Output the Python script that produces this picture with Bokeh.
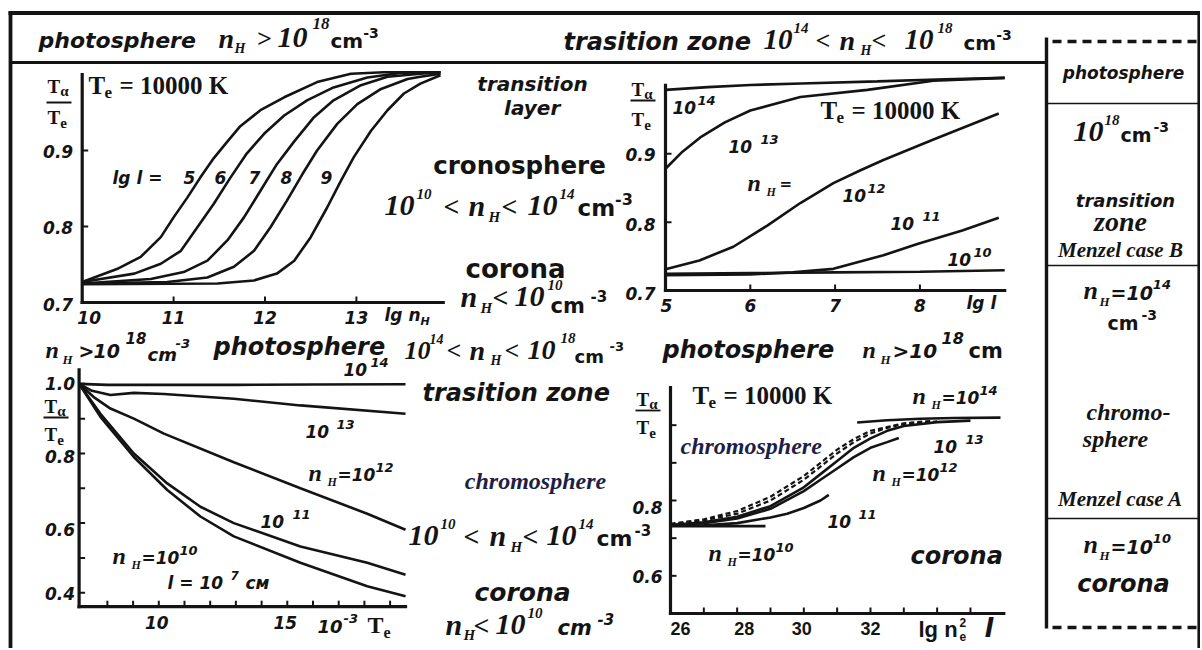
from bokeh.plotting import figure
from bokeh.models import Range1d
from bokeh.core.properties import value
from bokeh.embed import file_html
from bokeh.resources import INLINE

# ======================= DATA =======================
# Panel A (top left): Ta/Te vs lg n_H, Te = 10000 K, curves lg l = 5..9
a_lgl = ["5", "6", "7", "8", "9"]
a_lgn_5 = [10.0, 10.38, 10.64, 10.86, 11.0, 11.15, 11.29, 11.44, 11.59, 11.73, 11.95, 12.21, 12.57, 12.94, 13.30, 13.70, 13.92]
a_rat_5 = [0.727, 0.744, 0.760, 0.786, 0.812, 0.838, 0.864, 0.890, 0.912, 0.932, 0.953, 0.970, 0.990, 1.001, 1.003, 1.003, 1.003]
a_lgn_6 = [10.0, 10.57, 10.86, 11.08, 11.26, 11.44, 11.62, 11.80, 11.99, 12.21, 12.46, 12.75, 13.12, 13.48, 13.70, 13.92]
a_rat_6 = [0.727, 0.738, 0.751, 0.768, 0.799, 0.830, 0.864, 0.896, 0.922, 0.946, 0.966, 0.983, 0.996, 1.002, 1.003, 1.003]
a_lgn_7 = [10.0, 10.75, 11.11, 11.37, 11.59, 11.77, 11.95, 12.13, 12.32, 12.53, 12.75, 13.05, 13.34, 13.70, 13.92]
a_rat_7 = [0.725, 0.731, 0.740, 0.755, 0.782, 0.812, 0.847, 0.882, 0.912, 0.943, 0.966, 0.986, 0.997, 1.001, 1.003]
a_lgn_8 = [10.0, 10.93, 11.37, 11.66, 11.88, 12.06, 12.24, 12.41, 12.57, 12.79, 13.01, 13.27, 13.56, 13.70, 13.92]
a_rat_8 = [0.725, 0.727, 0.733, 0.747, 0.768, 0.799, 0.834, 0.869, 0.900, 0.935, 0.961, 0.981, 0.994, 0.997, 1.001]
a_lgn_9 = [10.0, 11.48, 11.88, 12.13, 12.32, 12.50, 12.68, 12.83, 12.97, 13.16, 13.34, 13.52, 13.70, 13.92]
a_rat_9 = [0.724, 0.725, 0.729, 0.738, 0.755, 0.786, 0.825, 0.860, 0.891, 0.926, 0.953, 0.975, 0.988, 0.999]
a_xticks = [11, 12, 13]
a_xlab_at = [10, 11, 12, 13]
a_xlab = ["10", "11", "12", "13"]
a_yticks = [0.8, 0.9]
a_ylab_at = [0.7, 0.8, 0.9]
a_ylab = ["0.7", "0.8", "0.9"]

# Panel B (top right): Ta/Te vs lg l, Te = 10000 K, curves n_H = 1e10..1e14
b_lgl_14 = [5.0, 5.5, 6.0, 6.6, 7.5, 8.3, 9.0]
b_rat_14 = [0.9935, 0.9976, 1.0007, 1.0028, 1.0059, 1.009, 1.0111]
b_lgl_13 = [5.0, 5.2, 5.41, 5.7, 6.0, 6.59, 7.38, 8.16, 9.0]
b_rat_13 = [0.8781, 0.9031, 0.9239, 0.946, 0.9633, 0.9831, 0.9935, 1.0070, 1.0111]
b_lgl_12 = [5.0, 5.4, 5.8, 6.2, 6.59, 6.98, 7.3, 7.57, 8.16, 8.93]
b_rat_12 = [0.731, 0.744, 0.764, 0.795, 0.828, 0.857, 0.876, 0.891, 0.921, 0.959]
b_lgl_11 = [5.0, 6.0, 6.5, 6.98, 7.57, 7.97, 8.5, 8.93]
b_rat_11 = [0.7224, 0.7234, 0.7265, 0.7317, 0.7515, 0.7681, 0.7878, 0.8065]
b_lgl_10 = [5.0, 6.0, 7.0, 8.0, 9.0]
b_rat_10 = [0.7244, 0.7255, 0.7265, 0.7275, 0.7296]
b_xticks = [6, 7, 8]
b_xlab_at = [5, 6, 7, 8]
b_xlab = ["5", "6", "7", "8"]
b_yticks = [0.8, 0.9]
b_ylab_at = [0.7, 0.8, 0.9]
b_ylab = ["0.7", "0.8", "0.9"]

# Panel C (bottom left): Ta/Te vs 1e-3 Te, l = 1e7 cm
c_te_14 = [6.9, 8.0, 10.0, 13.0, 16.0, 19.6]
c_rat_14 = [1.0, 0.997, 0.997, 0.997, 0.998, 0.999]
c_te_13 = [6.9, 7.4, 8.12, 9.03, 10.2, 12.92, 15.51, 19.6]
c_rat_13 = [1.0, 0.980, 0.968, 0.974, 0.971, 0.957, 0.938, 0.914]
c_te_12 = [6.9, 7.47, 8.12, 9.03, 10.2, 12.92, 15.51, 18.11, 19.6]
c_rat_12 = [1.0, 0.962, 0.929, 0.900, 0.857, 0.775, 0.700, 0.627, 0.581]
c_te_11 = [6.9, 7.73, 9.03, 10.33, 11.62, 12.92, 15.51, 18.11, 19.6]
c_rat_11 = [1.0, 0.914, 0.800, 0.714, 0.647, 0.600, 0.533, 0.486, 0.452]
c_te_10 = [6.9, 7.73, 9.03, 10.33, 11.62, 12.92, 15.51, 18.11, 19.6]
c_rat_10 = [1.0, 0.905, 0.790, 0.695, 0.619, 0.562, 0.486, 0.419, 0.390]
c_xticks = [8, 9, 10, 11, 12, 13, 14, 15, 16, 17, 18, 19]
c_xlab_at = [10, 15]
c_xlab = ["10", "15"]
c_yticks = [0.4, 0.5, 0.6, 0.7, 0.8, 0.9, 1.0]
c_ylab_at = [1.0, 0.8, 0.6, 0.4]
c_ylab = ["1.0", "0.8", "0.6", "0.4"]

# Panel D (bottom right): Ta/Te vs lg n_e^2 l
d_x_10 = [26.0, 28.85]
d_r_10 = [0.732, 0.732]
d_x_11 = [26.0, 27.0, 28.0, 29.0, 29.5, 30.0, 30.5, 30.75]
d_r_11 = [0.733, 0.734, 0.740, 0.755, 0.765, 0.780, 0.800, 0.815]
d_x_12 = [26.0, 27.0, 28.0, 29.0, 30.0, 30.5, 31.0, 31.5, 32.0, 32.5, 32.85]
d_r_12 = [0.735, 0.740, 0.752, 0.778, 0.825, 0.855, 0.885, 0.915, 0.940, 0.955, 0.966]
d_x_13 = [26.0, 27.0, 28.0, 29.0, 30.0, 30.5, 31.0, 31.5, 32.0, 32.5, 33.0, 34.0, 35.0]
d_r_13 = [0.735, 0.742, 0.757, 0.785, 0.835, 0.870, 0.905, 0.940, 0.965, 0.985, 0.998, 1.008, 1.012]
d_x_da = [26.0, 27.0, 28.0, 29.0, 30.0, 30.5, 31.0, 31.5, 32.0, 32.5, 33.0, 34.0]
d_r_da = [0.737, 0.747, 0.765, 0.800, 0.855, 0.890, 0.925, 0.955, 0.978, 0.993, 1.003, 1.010]
d_x_db = [26.0, 27.0, 28.0, 29.0, 30.0, 30.5, 31.0, 31.5, 32.0, 33.0, 33.8]
d_r_db = [0.738, 0.750, 0.772, 0.810, 0.865, 0.900, 0.935, 0.963, 0.985, 1.005, 1.011]
d_x_14 = [31.6, 32.5, 33.5, 34.5, 35.9]
d_r_14 = [1.007, 1.013, 1.017, 1.019, 1.020]
d_xticks = [27, 28, 29, 30, 31, 32, 33, 34, 35]
d_xlab_at = [26, 28, 30, 32]
d_xlab = ["26", "28", "30", "32"]
d_yticks = [0.6, 0.7, 0.8, 0.9, 1.0]
d_ylab_at = [0.8, 0.6]
d_ylab = ["0.8", "0.6"]

# ======================= STYLE / LAYOUT =======================
INK = "#141414"
NAVY = "#1e1e46"
FONTS = {
    "sbi": ("DejaVu Sans", "bold italic"),
    "sb": ("DejaVu Sans", "bold"),
    "tbi": ("Liberation Serif", "bold italic"),
    "tb": ("Liberation Serif", "bold"),
    "lb": ("Liberation Sans", "bold"),
}
_DJ = {" ": .348, "-": .415, ".": .380, "/": .365, "<": .838, "=": .838, ">": .838,
       "a": .675, "c": .593, "e": .678, "g": .716, "h": .712, "i": .343, "l": .343, "m": 1.042,
       "n": .712, "o": .687, "p": .716, "r": .493, "s": .595, "t": .478, "y": .652, "z": .582,
       "с": .593, "м": .83}
_TBI = {" ": .25, "-": .333, "<": .570, "=": .570, ">": .570, "a": .5, "c": .444, "e": .444,
        "h": .556, "l": .278, "m": .778, "n": .556, "o": .5, "p": .5, "r": .389, "s": .389,
        "z": .389, "A": .667, "B": .667, "H": .778, "M": .889}
_TB = {" ": .25, "=": .570, "T": .667, "e": .444, "K": .778, "α": .55}
_LB = {" ": .278, "l": .278, "g": .611, "n": .611, "e": .556}
for _d in "0123456789":
    _DJ[_d] = .696
    _TBI[_d] = .5
    _TB[_d] = .5
    _LB[_d] = .556
WID = {"sbi": _DJ, "sb": _DJ, "tbi": _TBI, "tb": _TB, "lb": _LB}
MID = 0.33   # baseline -> middle of text box, in em

# canvas units == page pixels
W, H = 1200, 648
p = figure(width=W, height=H, x_range=Range1d(0, W), y_range=Range1d(H, 0),
           output_backend="svg", toolbar_location=None, min_border=0,
           x_axis_location=None, y_axis_location=None)
p.grid.visible = False
p.outline_line_color = None
p.background_fill_color = "white"
p.border_fill_color = "white"

_texts = {}


def put(x, y, t, fk, size, color=INK):
    d = _texts.setdefault((fk, size, color), {"x": [], "y": [], "t": []})
    d["x"].append(x)
    d["y"].append(y - MID * size)
    d["t"].append(t)


def width(t, fk, size):
    return sum(WID[fk].get(c, 0.6) for c in t) * size


def rich(x, y, segs, align="left", color=INK):
    total = sum(width(s[0], s[1], s[2]) for s in segs)
    cx = x - total / 2 if align == "center" else x
    for s in segs:
        t, fk, size, dy = s[:4]
        if len(s) > 4 and s[4] is not None:
            cx = s[4]
        put(cx, y + dy, t, fk, size, color)
        cx += width(t, fk, size)


def frac(x, y_num, y_bar, y_den, bar_w=25):
    rich(0, y_num, [("T", "tb", 19, 0, x), ("α", "tb", 15, 3)])
    p.segment(x0=[x - 1], y0=[y_bar], x1=[x - 1 + bar_w], y1=[y_bar], line_width=1.8, line_color=INK)
    rich(0, y_den, [("T", "tb", 19, 0, x), ("e", "tb", 15, 4)])


def nh_eq(x, y, exp):
    rich(0, y, [("n", "tbi", 24, 0, x), ("H", "tbi", 12, 5, x + 19),
                ("=10", "sbi", 17, 0, x + 29), (exp, "sbi", 13, -9)])


def pow10(x, y, exp, gap=6):
    rich(0, y, [("10", "sbi", 17, 0, x), (exp, "sbi", 13, -9, x + 24 + gap)])


def te_label(x, y):
    rich(0, y, [("T", "tb", 25, 0, x), ("e", "tb", 17, 5, x + 16), ("= 10000 K", "tb", 25, 0, x + 31)])


def panel(xs, ys, xt, yt):
    return p.subplot(x_source=Range1d(*xs), y_source=Range1d(*ys),
                     x_target=Range1d(*xt), y_target=Range1d(*yt))


def axes(sp, xs, ys, xt, yt, xa, ya, xticks, yticks, tick=6):
    ppx = (xt[1] - xt[0]) / (xs[1] - xs[0])
    ppy = abs(yt[1] - yt[0]) / (ys[1] - ys[0])
    sp.segment(x0=[xa[0], xa[0]], y0=[ya[0], ya[0]], x1=[xa[1], xa[0]], y1=[ya[0], ya[1]],
               line_width=3.2, line_color=INK, line_cap="square")
    sp.segment(x0=xticks, y0=[ya[0]] * len(xticks), x1=xticks, y1=[ya[0] + tick / ppy] * len(xticks),
               line_width=2, line_color=INK)
    sp.segment(x0=[xa[0]] * len(yticks), y0=yticks, x1=[xa[0] + tick / ppx] * len(yticks), y1=yticks,
               line_width=2, line_color=INK)


def ticklabels(sp, xs, ys, labels, fk, size, align, baseline, xoff, yoff):
    fam, sty = FONTS[fk]
    sp.text(x=xs, y=ys, text=labels, x_offset=xoff, y_offset=yoff, text_font=value(fam),
            text_font_style=sty, text_font_size=f"{size}px", text_align=align,
            text_baseline=baseline, text_color=INK)


LW = 2.6

# ---------- Panel A ----------
A_XS, A_YS, A_XT, A_YT = (10, 14), (0.7, 1.0), (81.7, 447.3), (302, 74)
pa = panel(A_XS, A_YS, A_XT, A_YT)
axes(pa, A_XS, A_YS, A_XT, A_YT, (10, 13.95), (0.7, 1.0), a_xticks, a_yticks)
for xs_, ys_ in [(a_lgn_5, a_rat_5), (a_lgn_6, a_rat_6), (a_lgn_7, a_rat_7), (a_lgn_8, a_rat_8), (a_lgn_9, a_rat_9)]:
    pa.line(xs_, ys_, line_width=LW, line_color=INK)
ticklabels(pa, a_xlab_at, [0.7] * 4, a_xlab, "sbi", 17, "center", "top", [7, 0, 0, 0], 8)
ticklabels(pa, [10] * 3, a_ylab_at, a_ylab, "sbi", 17, "right", "middle", -9, [2, 1, 1])

# ---------- Panel B ----------
B_XS, B_YS, B_XT, B_YT = (5, 9), (0.7, 1.0), (665, 1004.2), (290, 84.95)
pb = panel(B_XS, B_YS, B_XT, B_YT)
axes(pb, B_XS, B_YS, B_XT, B_YT, (5, 9.0), (0.7, 1.0), b_xticks, b_yticks)
for xs_, ys_ in [(b_lgl_14, b_rat_14), (b_lgl_13, b_rat_13), (b_lgl_12, b_rat_12), (b_lgl_11, b_rat_11), (b_lgl_10, b_rat_10)]:
    pb.line(xs_, ys_, line_width=LW, line_color=INK)
ticklabels(pb, b_xlab_at, [0.7] * 4, b_xlab, "sbi", 17, "center", "top", [1, 0, 0, 0], 8)
ticklabels(pb, [5] * 3, b_ylab_at, b_ylab, "sbi", 17, "right", "middle", -10, [3, 2, 1])

# ---------- Panel C ----------
C_XS, C_YS, C_XT, C_YT = (6.9, 19.7), (0.36, 1.04), (78.6, 407.6), (606.2, 369.4)
pc = panel(C_XS, C_YS, C_XT, C_YT)
axes(pc, C_XS, C_YS, C_XT, C_YT, (6.9, 19.6), (0.36, 1.04), c_xticks, c_yticks)
for xs_, ys_ in [(c_te_14, c_rat_14), (c_te_13, c_rat_13), (c_te_12, c_rat_12), (c_te_11, c_rat_11), (c_te_10, c_rat_10)]:
    pc.line(xs_, ys_, line_width=LW, line_color=INK)
ticklabels(pc, c_xlab_at, [0.36] * 2, c_xlab, "sbi", 17, "center", "top", -2, 9)
ticklabels(pc, [6.9] * 4, c_ylab_at, c_ylab, "sbi", 17, "right", "middle", -4, [0, 3, 6, 1])

# ---------- Panel D ----------
D_XS, D_YS, D_XT, D_YT = (26, 36), (0.5, 1.1), (670, 1003.3), (613, 387)
pd_ = panel(D_XS, D_YS, D_XT, D_YT)
axes(pd_, D_XS, D_YS, D_XT, D_YT, (26, 36), (0.5, 1.1), d_xticks, d_yticks)
for xs_, ys_ in [(d_x_10, d_r_10), (d_x_11, d_r_11), (d_x_12, d_r_12), (d_x_13, d_r_13), (d_x_14, d_r_14)]:
    pd_.line(xs_, ys_, line_width=LW, line_color=INK)
for xs_, ys_ in [(d_x_da, d_r_da), (d_x_db, d_r_db)]:
    pd_.line(xs_, ys_, line_width=2.2, line_color=INK, line_dash="5 3")
ticklabels(pd_, d_xlab_at, [0.5] * 4, d_xlab, "lb", 18, "center", "top", [10, 7, -2, 0], 8)
ticklabels(pd_, [26] * 2, d_ylab_at, d_ylab, "sbi", 17, "right", "middle", -8, [7, 1])

# ---------- frame ----------
fx0 = [10, 8, 1198.5, 10, 1046, 1046, 1046, 1046]
fy0 = [11, 12.5, 12, 62, 37, 103, 265, 518]
fx1 = [10, W, 1198.5, 1046, 1046, W, W, W]
fy1 = [H, 12.5, H, 62, 628, 103, 265, 518]
fw = [3.8, 3.8, 3.2, 3.2, 3.4, 1.6, 1.6, 1.6]
p.segment(x0=fx0, y0=fy0, x1=fx1, y1=fy1, line_width=fw, line_color=INK)
p.segment(x0=[1052, 1052], y0=[41, 627], x1=[1197, 1197], y1=[41, 627], line_width=3.6,
          line_color=INK, line_dash="9 6")

# ---------- banner ----------
rich(0, 47, [("photosphere", "sbi", 22, 0, 38), ("n", "tbi", 28, 0, 218), ("H", "tbi", 14, 6, 234),
             (">", "tbi", 26, 0, 256), ("10", "tbi", 30, 0, 277), ("18", "tbi", 17, -18, 312),
             ("cm", "sb", 20, 0, 330), ("-3", "sb", 14, -10)])
rich(0, 49, [("trasition zone", "sbi", 24, 0, 563), ("10", "tbi", 29, 0, 763), ("14", "tbi", 15, -17, 793),
             ("<", "tbi", 26, 0, 815), ("n", "tbi", 28, 0, 839), ("H", "tbi", 14, 6, 860),
             ("<", "tbi", 26, 0, 871), ("10", "tbi", 29, 0, 904), ("18", "tbi", 15, -17, 937),
             ("cm", "sb", 20, 0, 963), ("-3", "sb", 14, -10)])

# ---------- middle column ----------
rich(532, 90, [("transition", "sbi", 20, 0)], align="center")
rich(532, 114, [("layer", "sbi", 20, 0)], align="center")
rich(519, 173, [("cronosphere", "sb", 24.5, 0)], align="center")
rich(0, 215, [("10", "tbi", 30, 0, 384), ("10", "tbi", 15, -17, 416), ("<", "tbi", 28, 0, 443),
              ("n", "tbi", 30, 0, 468), ("H", "tbi", 15, 6, 488), ("<", "tbi", 28, 0, 501),
              ("10", "tbi", 30, 0, 527), ("14", "tbi", 15, -17, 559), ("cm", "sb", 23, 0, 577),
              ("-3", "sb", 16, -11)])
rich(515, 277, [("corona", "sb", 26, 0)], align="center")
rich(0, 306, [("n", "tbi", 30, 0, 460), ("H", "tbi", 15, 6, 480), ("<", "tbi", 28, 0, 492),
              ("10", "tbi", 30, 0, 514), ("10", "tbi", 15, -17, 547), ("cm", "sb", 21, 6, 550),
              ("-3", "sb", 15, -6, 590)])
# row at ~350
rich(0, 357, [("n", "tbi", 24, 0, 45), ("H", "tbi", 13, 6, 62), (">", "sbi", 19, 0, 78),
              ("10", "sbi", 19, 0, 93), ("18", "sbi", 15, -15, 125), ("cm", "sbi", 18, 3, 147),
              ("-3", "sbi", 13, -10, 175), ("photosphere", "sbi", 24, -3, 213)])
rich(0, 359, [("10", "tbi", 26, 0, 404), ("14", "tbi", 14, -16, 429), ("<", "tbi", 26, 0, 446),
              ("n", "tbi", 28, 0, 469), ("H", "tbi", 14, 6, 490), ("<", "tbi", 26, 0, 504),
              ("10", "tbi", 28, 0, 527), ("18", "tbi", 15, -17, 560), ("cm", "sb", 18, 3, 574),
              ("-3", "sb", 13, -9, 609), ("photosphere", "sbi", 24, -2, 662),
              ("n", "tbi", 24, -2, 862), ("H", "tbi", 13, 4, 880), (">10", "sbi", 20, -2, 892),
              ("18", "sbi", 16, -16, 941), ("cm", "sb", 21, -2, 968)])
rich(0, 400, [("trasition zone", "sbi", 24, 0, 422)])
rich(535, 488, [("chromosphere", "tbi", 24, 0)], align="center", color=NAVY)
rich(0, 545, [("10", "tbi", 30, 0, 408), ("10", "tbi", 15, -17, 440), ("<", "tbi", 28, 0, 463),
              ("n", "tbi", 30, 0, 489), ("H", "tbi", 15, 6, 510), ("<", "tbi", 28, 0, 522),
              ("10", "tbi", 30, 0, 546), ("14", "tbi", 15, -17, 578), ("cm", "sb", 22, 0, 596),
              ("-3", "sb", 15, -11, 634)])
rich(522, 600, [("corona", "sbi", 25, 0)], align="center")
rich(0, 634, [("n", "tbi", 30, 0, 445), ("H", "tbi", 15, 5, 463), ("<", "tbi", 28, 0, 473),
              ("10", "tbi", 30, 0, 495), ("10", "tbi", 15, -17, 527), ("cm", "sbi", 21, 0, 557),
              ("-3", "sbi", 15, -11, 597)])

# ---------- right column ----------
rich(1123, 78, [("photosphere", "sbi", 17, 0)], align="center")
rich(0, 141, [("10", "tbi", 30, 0, 1073), ("18", "tbi", 15, -17, 1104), ("cm", "sb", 19, 0, 1120),
              ("-3", "sb", 14, -10, 1153)])
rich(1125, 206, [("transition", "sbi", 18, 0)], align="center")
rich(1120, 230, [("zone", "tbi", 28, 0)], align="center")
rich(1120, 256, [("Menzel case B", "tbi", 21, 0)], align="center")
rich(0, 299, [("n", "tbi", 26, 0, 1083), ("H", "tbi", 13, 6, 1099), ("=10", "sbi", 19, 0, 1110),
              ("14", "sbi", 13, -11)])
rich(0, 329, [("cm", "sb", 19, 0, 1107), ("-3", "sb", 14, -10, 1141)])
rich(1128, 419, [("chromo-", "tbi", 24, 0)], align="center")
rich(1115, 446, [("sphere", "tbi", 24, 0)], align="center")
rich(1120, 505, [("Menzel case A", "tbi", 21, 0)], align="center")
rich(0, 553, [("n", "tbi", 26, 0, 1083), ("H", "tbi", 13, 6, 1099), ("=10", "sbi", 19, 0, 1110),
              ("10", "sbi", 13, -11)])
rich(1123, 591, [("corona", "sbi", 24, 0)], align="center")

# ---------- panel A texts ----------
frac(47, 92, 102, 123)
te_label(88, 93)
rich(0, 183, [("lg l =", "sbi", 17, 0, 112)])
for _lab, _x in zip(a_lgl, [183, 214, 248, 280, 320]):
    rich(0, 183, [(_lab, "sbi", 17, 0, _x)])
rich(0, 320, [("lg n", "sbi", 17, 0, 384), ("H", "sbi", 11, 5)])

# ---------- panel B texts ----------
frac(631, 95, 100, 125)
pow10(672, 113, "14", 1)
te_label(820, 118)
pow10(728, 152, "13", 8)
rich(0, 190, [("n", "tbi", 24, 0, 747), ("H", "tbi", 12, 5, 766), ("=", "sbi", 15, -2, 779)])
pow10(842, 201, "12", 1)
pow10(890, 229, "11", 8)
pow10(947, 265, "10", 2)
rich(0, 308, [("lg l", "sbi", 17, 0, 966)])

# ---------- panel C texts ----------
frac(44, 412, 417, 440)
pow10(343, 375, "14", 3)
pow10(305, 437, "13", 7)
nh_eq(308, 480, "12")
pow10(260, 527, "11", 8)
nh_eq(112, 563, "10")
rich(0, 588, [("l = 10", "sbi", 17, 0, 167), ("7", "sbi", 12, -9, 230), ("см", "sbi", 17, 0, 245)])
rich(0, 632, [("10", "sbi", 18, 0, 317), ("-3", "sbi", 13, -10, 343), ("T", "tb", 24, 0, 367),
              ("e", "tb", 16, 5)])

# ---------- panel D texts ----------
frac(636, 405, 410, 433)
te_label(692, 403)
nh_eq(912, 403, "14")
rich(0, 453, [("chromosphere", "tbi", 24, 0, 680)], color=NAVY)
pow10(933, 452, "13", 8)
nh_eq(872, 480, "12")
pow10(827, 527, "11", 7)
nh_eq(708, 560, "10")
rich(0, 563, [("corona", "sbi", 24, 0, 910)])
rich(0, 636, [("lg n", "lb", 22, 0, 918), ("e", "lb", 12, 4, 959), ("2", "lb", 12, -10, 959),
              ("l", "sbi", 26, 0, 984)])

# ---------- emit texts ----------
for (fk, size, color), d in _texts.items():
    fam, sty = FONTS[fk]
    p.text(x=d["x"], y=d["y"], text=d["t"], text_font=value(fam), text_font_style=sty,
           text_font_size=f"{size}px", text_color=color, text_align="left",
           text_baseline="middle")

open("out.html", "w").write(file_html(p, INLINE))
